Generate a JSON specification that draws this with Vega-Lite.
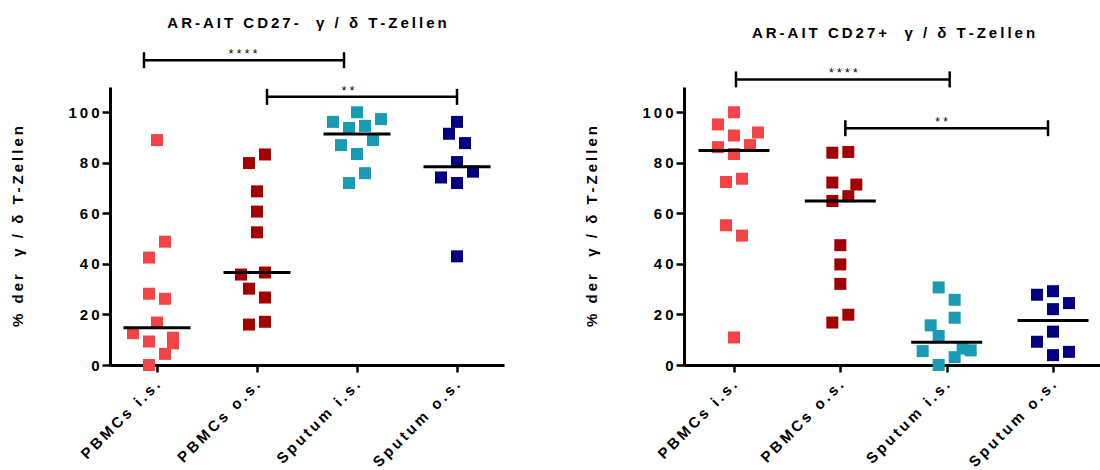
{
  "$schema": "https://vega.github.io/schema/vega-lite/v6.json",
  "background": "white",
  "padding": {"left": 10, "top": 16, "right": 0, "bottom": 0},
  "spacing": 80,
  "config": {
    "view": {"stroke": null},
    "font": "Liberation Sans",
    "axis": {
      "grid": false,
      "domainColor": "#000000",
      "domainWidth": 3,
      "tickColor": "#000000",
      "tickWidth": 2.5,
      "tickSize": 8,
      "labelColor": "#000000",
      "labelFont": "Liberation Sans",
      "labelFontSize": 15,
      "labelFontWeight": "bold",
      "labelOverlap": false,
      "titleColor": "#000000",
      "titleFont": "Liberation Sans",
      "titleFontSize": 15,
      "titleFontWeight": "bold"
    },
    "title": {"font": "Liberation Sans", "fontSize": 15, "fontWeight": "bold", "color": "#000000", "anchor": "middle"}
  },
  "datasets": {
    "cells": [
      {"panel": "CD27-", "group": "PBMCs i.s.", "slot": 0, "pct": 89.0},
      {"panel": "CD27-", "group": "PBMCs i.s.", "slot": 1, "pct": 48.8},
      {"panel": "CD27-", "group": "PBMCs i.s.", "slot": -1, "pct": 42.5},
      {"panel": "CD27-", "group": "PBMCs i.s.", "slot": -1, "pct": 28.2},
      {"panel": "CD27-", "group": "PBMCs i.s.", "slot": 1, "pct": 26.2},
      {"panel": "CD27-", "group": "PBMCs i.s.", "slot": 0, "pct": 16.8},
      {"panel": "CD27-", "group": "PBMCs i.s.", "slot": -3, "pct": 12.6},
      {"panel": "CD27-", "group": "PBMCs i.s.", "slot": -1, "pct": 9.3},
      {"panel": "CD27-", "group": "PBMCs i.s.", "slot": 2, "pct": 10.8},
      {"panel": "CD27-", "group": "PBMCs i.s.", "slot": 2, "pct": 8.6},
      {"panel": "CD27-", "group": "PBMCs i.s.", "slot": 1, "pct": 4.4},
      {"panel": "CD27-", "group": "PBMCs i.s.", "slot": -1, "pct": 0.0},
      {"panel": "CD27-", "group": "PBMCs o.s.", "slot": 1, "pct": 83.3},
      {"panel": "CD27-", "group": "PBMCs o.s.", "slot": -1, "pct": 79.9},
      {"panel": "CD27-", "group": "PBMCs o.s.", "slot": 0, "pct": 68.7},
      {"panel": "CD27-", "group": "PBMCs o.s.", "slot": 0, "pct": 60.7},
      {"panel": "CD27-", "group": "PBMCs o.s.", "slot": 0, "pct": 52.5},
      {"panel": "CD27-", "group": "PBMCs o.s.", "slot": 1, "pct": 36.6},
      {"panel": "CD27-", "group": "PBMCs o.s.", "slot": -2, "pct": 35.8},
      {"panel": "CD27-", "group": "PBMCs o.s.", "slot": -1, "pct": 30.2},
      {"panel": "CD27-", "group": "PBMCs o.s.", "slot": 1, "pct": 26.7},
      {"panel": "CD27-", "group": "PBMCs o.s.", "slot": 1, "pct": 17.1},
      {"panel": "CD27-", "group": "PBMCs o.s.", "slot": -1, "pct": 16.0},
      {"panel": "CD27-", "group": "Sputum i.s.", "slot": 0, "pct": 100.0},
      {"panel": "CD27-", "group": "Sputum i.s.", "slot": -3, "pct": 96.2},
      {"panel": "CD27-", "group": "Sputum i.s.", "slot": 3, "pct": 97.3},
      {"panel": "CD27-", "group": "Sputum i.s.", "slot": -1, "pct": 93.8},
      {"panel": "CD27-", "group": "Sputum i.s.", "slot": 1, "pct": 94.6},
      {"panel": "CD27-", "group": "Sputum i.s.", "slot": 2, "pct": 89.0},
      {"panel": "CD27-", "group": "Sputum i.s.", "slot": -2, "pct": 87.0},
      {"panel": "CD27-", "group": "Sputum i.s.", "slot": 0, "pct": 83.5},
      {"panel": "CD27-", "group": "Sputum i.s.", "slot": 1, "pct": 75.9},
      {"panel": "CD27-", "group": "Sputum i.s.", "slot": -1, "pct": 72.0},
      {"panel": "CD27-", "group": "Sputum o.s.", "slot": 0, "pct": 96.2},
      {"panel": "CD27-", "group": "Sputum o.s.", "slot": -1, "pct": 91.5},
      {"panel": "CD27-", "group": "Sputum o.s.", "slot": 1, "pct": 87.8},
      {"panel": "CD27-", "group": "Sputum o.s.", "slot": 0, "pct": 80.3},
      {"panel": "CD27-", "group": "Sputum o.s.", "slot": 2, "pct": 76.5},
      {"panel": "CD27-", "group": "Sputum o.s.", "slot": -2, "pct": 74.2},
      {"panel": "CD27-", "group": "Sputum o.s.", "slot": 0, "pct": 72.0},
      {"panel": "CD27-", "group": "Sputum o.s.", "slot": 0, "pct": 43.0},
      {"panel": "CD27+", "group": "PBMCs i.s.", "slot": 0, "pct": 100.0},
      {"panel": "CD27+", "group": "PBMCs i.s.", "slot": -2, "pct": 95.2},
      {"panel": "CD27+", "group": "PBMCs i.s.", "slot": 0, "pct": 90.8},
      {"panel": "CD27+", "group": "PBMCs i.s.", "slot": 3, "pct": 92.0},
      {"panel": "CD27+", "group": "PBMCs i.s.", "slot": -2, "pct": 86.2},
      {"panel": "CD27+", "group": "PBMCs i.s.", "slot": 2, "pct": 87.0},
      {"panel": "CD27+", "group": "PBMCs i.s.", "slot": 0, "pct": 83.5},
      {"panel": "CD27+", "group": "PBMCs i.s.", "slot": 1, "pct": 73.7},
      {"panel": "CD27+", "group": "PBMCs i.s.", "slot": -1, "pct": 72.4},
      {"panel": "CD27+", "group": "PBMCs i.s.", "slot": -1, "pct": 55.3},
      {"panel": "CD27+", "group": "PBMCs i.s.", "slot": 1, "pct": 51.2},
      {"panel": "CD27+", "group": "PBMCs i.s.", "slot": 0, "pct": 10.9},
      {"panel": "CD27+", "group": "PBMCs o.s.", "slot": -1, "pct": 84.0},
      {"panel": "CD27+", "group": "PBMCs o.s.", "slot": 1, "pct": 84.3},
      {"panel": "CD27+", "group": "PBMCs o.s.", "slot": -1, "pct": 72.2},
      {"panel": "CD27+", "group": "PBMCs o.s.", "slot": 2, "pct": 71.4},
      {"panel": "CD27+", "group": "PBMCs o.s.", "slot": 1, "pct": 66.8},
      {"panel": "CD27+", "group": "PBMCs o.s.", "slot": -1, "pct": 64.9},
      {"panel": "CD27+", "group": "PBMCs o.s.", "slot": 0, "pct": 47.4},
      {"panel": "CD27+", "group": "PBMCs o.s.", "slot": 0, "pct": 39.8},
      {"panel": "CD27+", "group": "PBMCs o.s.", "slot": 0, "pct": 32.1},
      {"panel": "CD27+", "group": "PBMCs o.s.", "slot": 1, "pct": 19.9},
      {"panel": "CD27+", "group": "PBMCs o.s.", "slot": -1, "pct": 16.8},
      {"panel": "CD27+", "group": "Sputum i.s.", "slot": -1, "pct": 30.7},
      {"panel": "CD27+", "group": "Sputum i.s.", "slot": 1, "pct": 25.8},
      {"panel": "CD27+", "group": "Sputum i.s.", "slot": 1, "pct": 18.7},
      {"panel": "CD27+", "group": "Sputum i.s.", "slot": -2, "pct": 15.7},
      {"panel": "CD27+", "group": "Sputum i.s.", "slot": -1, "pct": 11.5},
      {"panel": "CD27+", "group": "Sputum i.s.", "slot": -3, "pct": 5.5},
      {"panel": "CD27+", "group": "Sputum i.s.", "slot": 2, "pct": 6.5},
      {"panel": "CD27+", "group": "Sputum i.s.", "slot": 3, "pct": 5.8},
      {"panel": "CD27+", "group": "Sputum i.s.", "slot": 1, "pct": 3.1},
      {"panel": "CD27+", "group": "Sputum i.s.", "slot": -1, "pct": 0.0},
      {"panel": "CD27+", "group": "Sputum o.s.", "slot": 0, "pct": 29.2},
      {"panel": "CD27+", "group": "Sputum o.s.", "slot": -2, "pct": 27.8},
      {"panel": "CD27+", "group": "Sputum o.s.", "slot": 2, "pct": 24.5},
      {"panel": "CD27+", "group": "Sputum o.s.", "slot": 0, "pct": 22.1},
      {"panel": "CD27+", "group": "Sputum o.s.", "slot": 0, "pct": 13.2},
      {"panel": "CD27+", "group": "Sputum o.s.", "slot": -2, "pct": 9.2},
      {"panel": "CD27+", "group": "Sputum o.s.", "slot": 2, "pct": 5.2},
      {"panel": "CD27+", "group": "Sputum o.s.", "slot": 0, "pct": 3.9}
    ],
    "brackets": [
      {"panel": "CD27-", "from": "PBMCs i.s.", "to": "Sputum i.s.", "mid": "PBMCs o.s.", "level": 120.6, "label": "****"},
      {"panel": "CD27-", "from": "PBMCs o.s.", "to": "Sputum o.s.", "mid": "Sputum i.s.", "level": 106.1, "label": "**"},
      {"panel": "CD27+", "from": "PBMCs i.s.", "to": "Sputum i.s.", "mid": "PBMCs o.s.", "level": 113.0, "label": "****"},
      {"panel": "CD27+", "from": "PBMCs o.s.", "to": "Sputum o.s.", "mid": "Sputum i.s.", "level": 93.7, "label": "**"}
    ]
  },
  "hconcat": [
    {
      "width": 394,
      "height": 278,
      "title": {"text": {"expr": "join(split('AR-AIT CD27-  γ / δ T-Zellen', ''), '\u2009')"}, "offset": 17},
      "layer": [
        {
          "data": {"name": "cells"},
          "transform": [{"filter": "datum.panel === 'CD27-'"}],
          "mark": {"type": "square", "size": 144, "opacity": 1},
          "encoding": {
            "x": {
              "field": "group", "type": "nominal",
              "scale": {"type": "point", "domain": ["PBMCs i.s.", "PBMCs o.s.", "Sputum i.s.", "Sputum o.s."], "padding": 0.47},
              "axis": {"title": null, "labelAngle": -45, "labelAlign": "right", "labelBaseline": "middle", "labelPadding": 10, "tickSize": 7, "labelExpr": "join(split(datum.label, ''), '\u2009')"}
            },
            "xOffset": {"field": "slot", "type": "quantitative", "scale": {"domain": [-4, 4], "range": [-32, 32]}},
            "y": {
              "field": "pct", "type": "quantitative",
              "scale": {"domain": [0, 110], "nice": false},
              "axis": {"title": {"expr": "join(split('% der  γ / δ T-Zellen', ''), '\u2009')"}, "values": [0, 20, 40, 60, 80, 100], "labelPadding": 3, "titlePadding": 42, "labelExpr": "join(split(datum.label, ''), '\u2009')"}
            },
            "color": {
              "field": "group", "type": "nominal",
              "scale": {"domain": ["PBMCs i.s.", "PBMCs o.s.", "Sputum i.s.", "Sputum o.s."], "range": ["#f64345", "#a30000", "#1a9bb4", "#000080"]},
              "legend": null
            }
          }
        },
        {
          "data": {"name": "cells"},
          "transform": [
            {"filter": "datum.panel === 'CD27-'"},
            {"aggregate": [{"op": "median", "field": "pct", "as": "median"}], "groupby": ["group"]}
          ],
          "mark": {"type": "tick", "color": "#000000", "opacity": 1, "size": 67, "thickness": 3},
          "encoding": {
            "x": {"field": "group", "type": "nominal"},
            "y": {"field": "median", "type": "quantitative"}
          }
        },
        {
          "data": {"name": "brackets"},
          "transform": [{"filter": "datum.panel === 'CD27-'"}],
          "mark": {"type": "rule", "color": "#000000", "strokeWidth": 2.5, "xOffset": {"expr": "datum.label === '****' ? -13 : 10"}, "x2Offset": {"expr": "datum.label === '****' ? -13 : 0"}},
          "encoding": {
            "x": {"field": "from", "type": "nominal"},
            "x2": {"field": "to"},
            "y": {"field": "level", "type": "quantitative"}
          }
        },
        {
          "data": {"name": "brackets"},
          "transform": [{"filter": "datum.panel === 'CD27-'"}],
          "mark": {"type": "tick", "orient": "vertical", "color": "#000000", "opacity": 1, "size": 16, "thickness": 2.5, "xOffset": {"expr": "datum.label === '****' ? -13 : 10"}},
          "encoding": {
            "x": {"field": "from", "type": "nominal"},
            "y": {"field": "level", "type": "quantitative"}
          }
        },
        {
          "data": {"name": "brackets"},
          "transform": [{"filter": "datum.panel === 'CD27-'"}],
          "mark": {"type": "tick", "orient": "vertical", "color": "#000000", "opacity": 1, "size": 16, "thickness": 2.5, "xOffset": {"expr": "datum.label === '****' ? -13 : 0"}},
          "encoding": {
            "x": {"field": "to", "type": "nominal"},
            "y": {"field": "level", "type": "quantitative"}
          }
        },
        {
          "data": {"name": "brackets"},
          "transform": [{"filter": "datum.panel === 'CD27-'"}],
          "mark": {"type": "text", "font": "Liberation Sans", "fontSize": 12, "color": "#000000", "baseline": "alphabetic", "dy": -2, "dx": {"expr": "datum.label === '****' ? -14 : -9"}, "text": {"expr": "join(split(datum.label, ''), ' ')"}},
          "encoding": {
            "x": {"field": "mid", "type": "nominal"},
            "y": {"field": "level", "type": "quantitative"}
          }
        }
      ]
    },
    {
      "width": 419,
      "height": 278,
      "title": {"text": {"expr": "join(split('AR-AIT CD27+  γ / δ T-Zellen', ''), '\u2009')"}, "offset": 26},
      "layer": [
        {
          "data": {"name": "cells"},
          "transform": [{"filter": "datum.panel === 'CD27+'"}],
          "mark": {"type": "square", "size": 144, "opacity": 1},
          "encoding": {
            "x": {
              "field": "group", "type": "nominal",
              "scale": {"type": "point", "domain": ["PBMCs i.s.", "PBMCs o.s.", "Sputum i.s.", "Sputum o.s."], "padding": 0.47},
              "axis": {"title": null, "labelAngle": -45, "labelAlign": "right", "labelBaseline": "middle", "labelPadding": 10, "tickSize": 7, "labelExpr": "join(split(datum.label, ''), '\u2009')"}
            },
            "xOffset": {"field": "slot", "type": "quantitative", "scale": {"domain": [-4, 4], "range": [-33.6, 33.6]}},
            "y": {
              "field": "pct", "type": "quantitative",
              "scale": {"domain": [0, 110], "nice": false},
              "axis": {"title": {"expr": "join(split('% der  γ / δ T-Zellen', ''), '\u2009')"}, "values": [0, 20, 40, 60, 80, 100], "labelPadding": 3, "titlePadding": 42, "labelExpr": "join(split(datum.label, ''), '\u2009')"}
            },
            "color": {
              "field": "group", "type": "nominal",
              "scale": {"domain": ["PBMCs i.s.", "PBMCs o.s.", "Sputum i.s.", "Sputum o.s."], "range": ["#f64345", "#a30000", "#1a9bb4", "#000080"]},
              "legend": null
            }
          }
        },
        {
          "data": {"name": "cells"},
          "transform": [
            {"filter": "datum.panel === 'CD27+'"},
            {"aggregate": [{"op": "median", "field": "pct", "as": "median"}], "groupby": ["group"]}
          ],
          "mark": {"type": "tick", "color": "#000000", "opacity": 1, "size": 71, "thickness": 3},
          "encoding": {
            "x": {"field": "group", "type": "nominal"},
            "y": {"field": "median", "type": "quantitative"}
          }
        },
        {
          "data": {"name": "brackets"},
          "transform": [{"filter": "datum.panel === 'CD27+'"}],
          "mark": {"type": "rule", "color": "#000000", "strokeWidth": 2.5, "xOffset": {"expr": "datum.label === '****' ? 2 : 5"}, "x2Offset": {"expr": "datum.label === '****' ? 3 : -5"}},
          "encoding": {
            "x": {"field": "from", "type": "nominal"},
            "x2": {"field": "to"},
            "y": {"field": "level", "type": "quantitative"}
          }
        },
        {
          "data": {"name": "brackets"},
          "transform": [{"filter": "datum.panel === 'CD27+'"}],
          "mark": {"type": "tick", "orient": "vertical", "color": "#000000", "opacity": 1, "size": 16, "thickness": 2.5, "xOffset": {"expr": "datum.label === '****' ? 2 : 5"}},
          "encoding": {
            "x": {"field": "from", "type": "nominal"},
            "y": {"field": "level", "type": "quantitative"}
          }
        },
        {
          "data": {"name": "brackets"},
          "transform": [{"filter": "datum.panel === 'CD27+'"}],
          "mark": {"type": "tick", "orient": "vertical", "color": "#000000", "opacity": 1, "size": 16, "thickness": 2.5, "xOffset": {"expr": "datum.label === '****' ? 3 : -5"}},
          "encoding": {
            "x": {"field": "to", "type": "nominal"},
            "y": {"field": "level", "type": "quantitative"}
          }
        },
        {
          "data": {"name": "brackets"},
          "transform": [{"filter": "datum.panel === 'CD27+'"}],
          "mark": {"type": "text", "font": "Liberation Sans", "fontSize": 12, "color": "#000000", "baseline": "alphabetic", "dy": -2, "dx": {"expr": "datum.label === '****' ? 3 : -5"}, "text": {"expr": "join(split(datum.label, ''), ' ')"}},
          "encoding": {
            "x": {"field": "mid", "type": "nominal"},
            "y": {"field": "level", "type": "quantitative"}
          }
        }
      ]
    }
  ]
}
